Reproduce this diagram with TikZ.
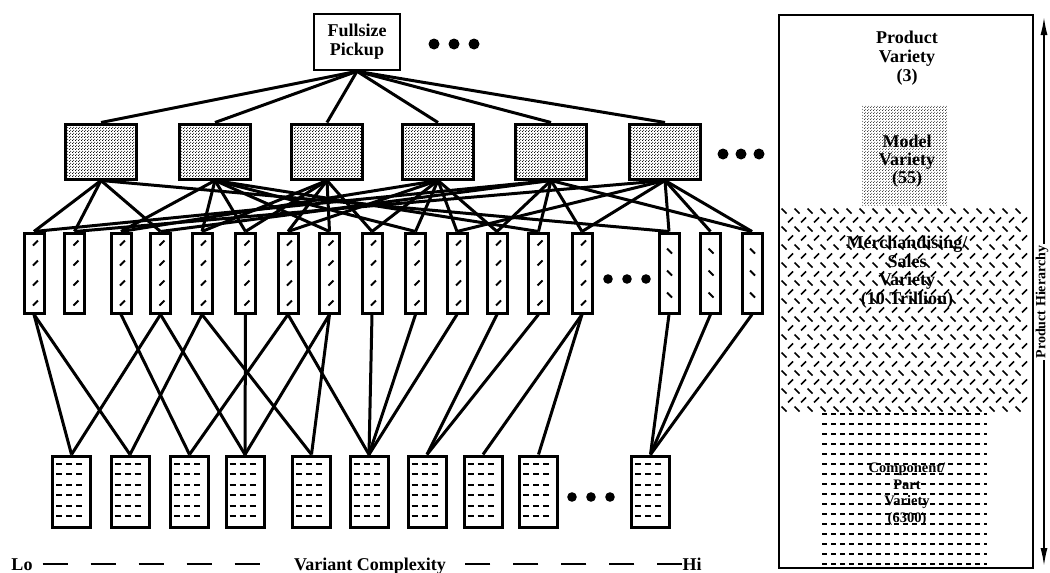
\documentclass[tikz,border=0pt]{standalone}
\usepackage{fontspec}
\setmainfont{Liberation Serif}
\usetikzlibrary{patterns,arrows.meta,calc}
\pgfdeclarepatternformonly{stipple}{\pgfqpoint{0pt}{0pt}}{\pgfqpoint{3pt}{3pt}}{\pgfqpoint{3pt}{3pt}}{%
  \pgfpathcircle{\pgfqpoint{0.75pt}{0.75pt}}{0.6pt}%
  \pgfpathcircle{\pgfqpoint{2.25pt}{2.25pt}}{0.6pt}%
  \pgfusepath{fill}}
\begin{document}
\begin{tikzpicture}[x=1pt,y=-1pt,
  every node/.style={font=\bfseries\fontsize{18}{19}\selectfont},
  box/.style={draw, line width=3pt},
  topbox/.style={draw, line width=2.6pt, fill=white, minimum width=86pt, minimum height=56pt, align=center, inner sep=0pt},
  modelbox/.style={box, pattern=stipple, minimum width=71pt, minimum height=55pt},
  salesbox/.style={box, fill=white, minimum width=20pt, minimum height=80pt},
  compbox/.style={box, fill=white, minimum width=38pt, minimum height=71pt},
  link/.style={line width=3pt},
  slashmark/.style={line width=1.8pt},
  compdash/.style={line width=2pt, dash pattern=on 6pt off 4pt},
  hmark/.style={line width=1.7pt},
  cpdash/.style={line width=1.8pt, dash pattern=on 5pt off 4pt},
  axisdash/.style={line width=2.4pt, dash pattern=on 25pt off 23pt},
  paneltext/.style={align=center, inner sep=0pt},
  smalltext/.style={align=center, inner sep=0pt, font=\bfseries\fontsize{14.5}{16.5}\selectfont},
  dot/.style={fill=black}
]
\useasboundingbox (0,0) rectangle (1050,573);

% ---------- nodes of the hierarchy ----------
\node[topbox] (fp) at (357,42) {Fullsize\\Pickup};

\foreach \i/\x in {1/101,2/215,3/327,4/438,5/551,6/665}
  \node[modelbox] (m\i) at (\x,151.5) {};

\foreach \j/\x in {1/34,2/74.5,3/121,4/160.5,5/202,6/245.5,7/288,8/329.5,9/372,10/415.5,11/457,12/497,13/538.5,14/582,15/669,16/710.5,17/752}
  \node[salesbox] (s\j) at (\x,273) {};

\foreach \i/\x in {1/71.5,2/130,3/189.5,4/245,5/311.5,6/369,7/427,8/483,9/538.5,10/650.5}
  \node[compbox] (c\i) at (\x,491.5) {};

% ---------- connectors ----------
\foreach \i in {1,...,6}
  \draw[link] (fp.south) -- (m\i.north);

\foreach \m/\s in {1/1,1/2,1/4,1/15,
                   2/3,2/5,2/6,2/8,2/10,2/13,
                   3/5,3/6,3/7,3/8,3/9,
                   4/3,4/7,4/9,4/10,4/11,4/12,
                   5/1,5/4,5/12,5/13,5/14,5/17,
                   6/2,6/11,6/14,6/15,6/16,6/17}
  \draw[link] (m\m.south) -- (s\s.north);

\foreach \s/\c in {1/1,1/2,3/3,4/1,4/4,5/2,5/5,6/4,7/3,7/6,8/4,8/5,9/6,10/6,11/6,12/7,13/7,14/8,14/9,15/10,16/10,17/10}
  \draw[link] (s\s.south) -- (c\c.north);

% redraw boxes on top of connectors
\node[topbox] at (fp) {Fullsize\\Pickup};
\foreach \i in {1,...,6} \node[modelbox] at (m\i) {};
\foreach \j in {1,...,17} \node[salesbox] at (s\j) {};
\foreach \i in {1,...,10} \node[compbox] at (c\i) {};

% ---------- fills of the boxes ----------
\foreach \j in {1,...,14}{
  \foreach \k in {0,...,3}{
    \draw[slashmark] ($(s\j.north)+(-1,14+20*\k)$) -- ++(5,-5);
  }
}
\foreach \j in {15,16,17}{
  \foreach \k in {0,1,2}{
    \draw[slashmark] ($(s\j.north)+(-2,17+22*\k)$) -- ++(5,5);
  }
}
\foreach \i in {1,...,10}{
  \foreach \k in {0,...,5}{
    \draw[compdash] ($(c\i.north west)+(5,9+10.5*\k)$) -- ++(28,0);
  }
}

% ---------- ellipses ----------
\foreach \x in {434,454,474} \fill[dot] (\x,44) circle[radius=5.5pt];
\foreach \x in {723,741,759} \fill[dot] (\x,154) circle[radius=5.5pt];
\foreach \x in {608,627,646} \fill[dot] (\x,279) circle[radius=4.8pt];
\foreach \x in {572,591,610} \fill[dot] (\x,497) circle[radius=4.8pt];

% ---------- complexity axis ----------
\node[anchor=base, inner sep=0pt] (lo) at (22,570) {Lo};
\node[anchor=base, inner sep=0pt] (vc) at (370,570) {Variant Complexity};
\node[anchor=base, inner sep=0pt] (hi) at (692,570) {Hi};
\draw[axisdash, shorten <=10pt, shorten >=24pt] (lo.east) -- (lo.east -| vc.west);
\draw[axisdash, shorten >=12pt] (lo.east -| hi.west) -- (lo.east -| vc.east);

% ---------- right panel ----------
\node[draw, line width=2pt, minimum width=254pt, minimum height=553pt, inner sep=0pt] (panel) at (906,291.5) {};

\node[pattern=stipple, minimum width=85pt, minimum height=100pt, inner sep=0pt] (mvbox) at (904.5,155) {};

\foreach \r in {0,...,22}{
  \pgfmathsetmacro\off{mod(\r,2)*6.5}
  \pgfmathsetmacro\d{ifthenelse(mod(\r,2)==0,2.5,-2.5)}
  \foreach \c in {0,...,18}{
    \draw[hmark] ({784+13*\c+\off-2.5},{211+9*\r-\d}) -- ++(5,{2*\d});
  }
}
\foreach \k in {0,...,15}
  \draw[cpdash] (822,{414+10*\k}) -- (987,{414+10*\k});

\node[paneltext] (pv) at (907,58) {Product\\Variety\\(3)};
\node[paneltext, font=\bfseries\fontsize{18}{18}\selectfont] (mv) at (907,161) {Model\\Variety\\(55)};
\node[paneltext, font=\bfseries\fontsize{18}{18.5}\selectfont] (msv) at (907,272) {Merchandising/\\Sales\\Variety\\(10 Trillion)};
\node[smalltext] (cpv) at (907,494) {Component/\\Part\\Variety\\(6300)};

% ---------- hierarchy arrow ----------
\coordinate (ha) at (1044,17);
\coordinate (hb) at (1044,566);
\draw[line width=1.6pt, {Latex[length=18pt,width=7pt]}-{Latex[length=18pt,width=7pt]}] (ha) -- (hb);
\node[rotate=90, fill=white, inner sep=1.5pt, font=\bfseries\fontsize{14}{16}\selectfont] (ph) at (1042,302) {Product Hierarchy};
\end{tikzpicture}
\end{document}
